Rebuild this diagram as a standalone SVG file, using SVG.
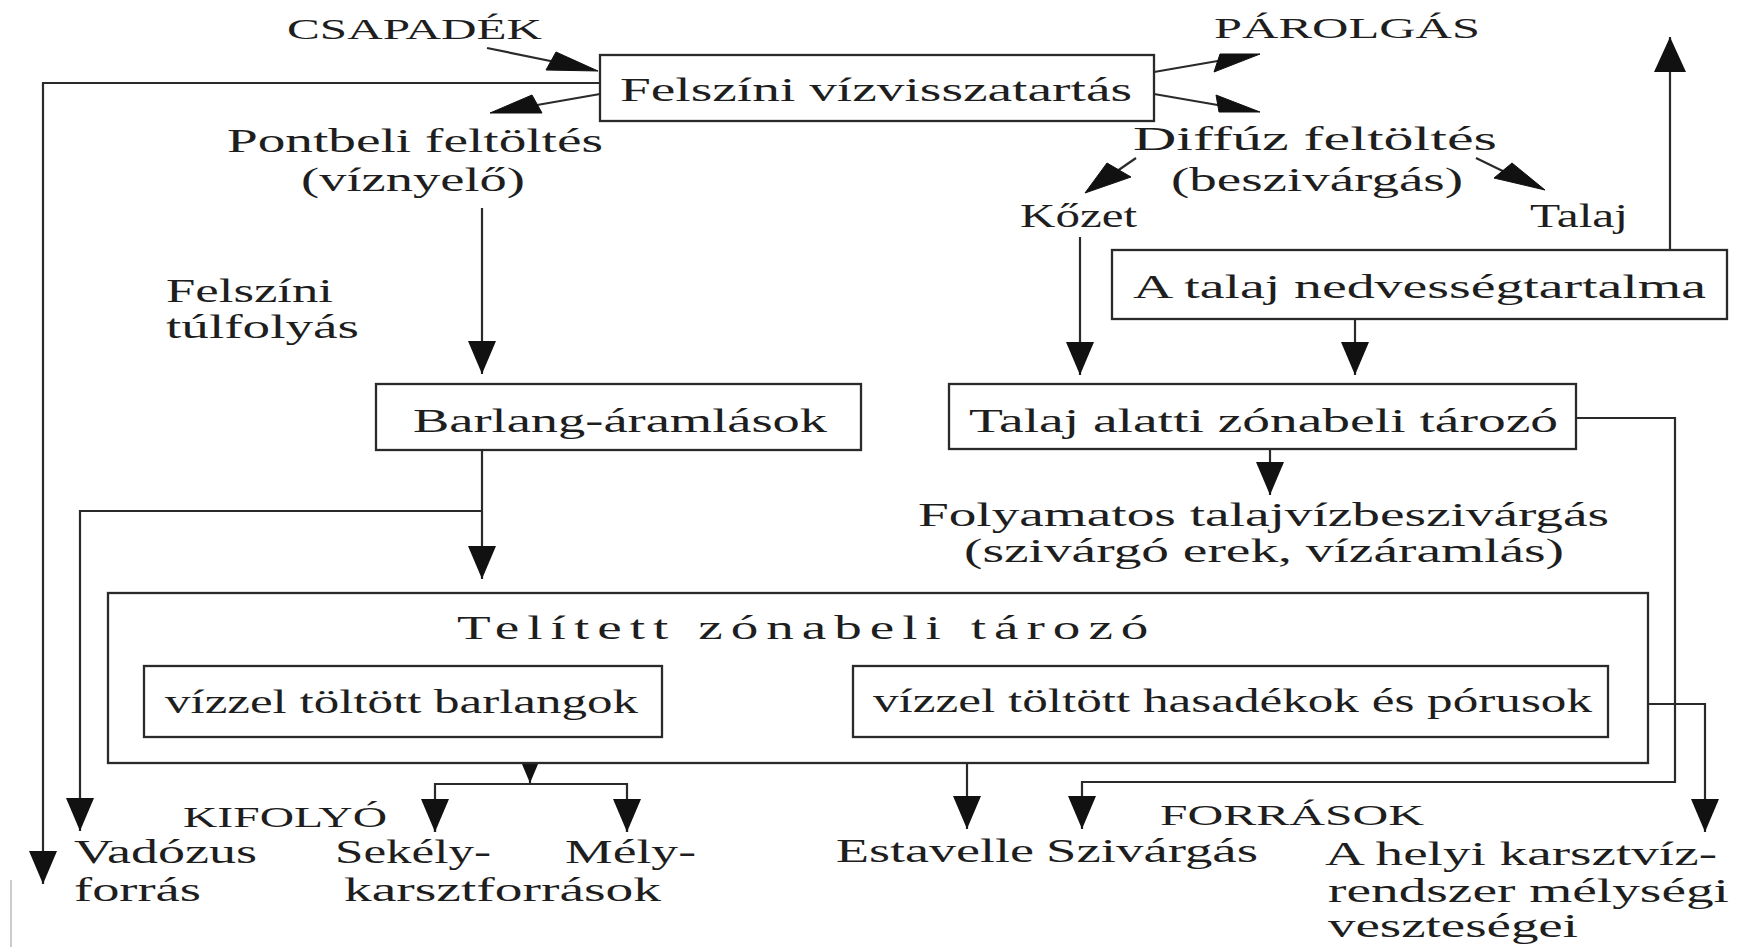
<svg xmlns="http://www.w3.org/2000/svg" width="1742" height="947" viewBox="0 0 1742 947">
<style>
.bx{fill:#fff;stroke:#2a2a2a;stroke-width:2.3}
.ln{fill:none;stroke:#2a2a2a;stroke-width:2.2}
.ah{fill:#111;stroke:#111;stroke-width:1;stroke-linejoin:round}
.t{font-family:"Liberation Serif","Times New Roman",serif;font-size:33px;fill:#1e1e1e}
.c{font-family:"Liberation Serif","Times New Roman",serif;font-size:30px;fill:#1e1e1e}
</style>
<defs>
<marker id="mv" markerUnits="userSpaceOnUse" viewBox="-40 -20 45 40" markerWidth="45" markerHeight="40" refX="0" refY="0" orient="auto"><path d="M0,0 L-33,-14 L-33,14 Z" fill="#111"/></marker>
<marker id="mu" markerUnits="userSpaceOnUse" viewBox="-40 -20 45 40" markerWidth="45" markerHeight="40" refX="0" refY="0" orient="auto"><path d="M0,0 L-35,-16 L-35,16 Z" fill="#111"/></marker>
<marker id="ms" markerUnits="userSpaceOnUse" viewBox="-45 -20 50 40" markerWidth="50" markerHeight="40" refX="0" refY="0" orient="auto-start-reverse"><path d="M0,0 L-38,-10 L-38,10 Z" fill="#111"/></marker>
</defs>
<rect width="1742" height="947" fill="#fff"/>

<g id="connectors">
<line class="ln" x1="487" y1="48" x2="570" y2="65"/>
<polygon class="ah" points="598,71 546,70 556,52"/>
<line class="ln" x1="600" y1="94" x2="520" y2="108"/>
<polygon class="ah" points="490,113 542,113 532,95"/>
<line class="ln" x1="1154" y1="72" x2="1235" y2="58"/>
<polygon class="ah" points="1260,54 1220,54 1214,72"/>
<line class="ln" x1="1154" y1="94" x2="1235" y2="108"/>
<polygon class="ah" points="1260,112 1219,112 1216,95"/>
<polyline class="ln" points="600,83 43,83 43,884" marker-end="url(#mv)"/>
<line class="ln" x1="482" y1="208" x2="482" y2="374" marker-end="url(#mv)"/>
<line class="ln" x1="482" y1="450" x2="482" y2="579" marker-end="url(#mv)"/>
<polyline class="ln" points="482,511 80,511 80,831" marker-end="url(#mv)"/>
<line class="ln" x1="1136" y1="158" x2="1110" y2="176"/>
<polygon class="ah" points="1085,193 1107,163 1131,177"/>
<line class="ln" x1="1476" y1="158" x2="1515" y2="177"/>
<polygon class="ah" points="1545,190 1494,178 1512,163"/>
<line class="ln" x1="1080" y1="237" x2="1080" y2="375" marker-end="url(#mv)"/>
<line class="ln" x1="1670" y1="250" x2="1670" y2="37" marker-end="url(#mu)"/>
<line class="ln" x1="1355" y1="319" x2="1355" y2="375" marker-end="url(#mv)"/>
<line class="ln" x1="1270" y1="449" x2="1270" y2="495" marker-end="url(#mv)"/>
<polyline class="ln" points="1576,418 1675,418 1675,782 1082,782 1082,829" marker-end="url(#mv)"/>
<line class="ln" x1="680" y1="703" x2="835" y2="703" marker-start="url(#ms)" marker-end="url(#ms)"/>
<line class="ln" x1="530" y1="737" x2="530" y2="783" marker-end="url(#mv)"/>
<polyline class="ln" points="435,832 435,784 627,784 627,832"/>
<line class="ln" x1="435" y1="800" x2="435" y2="832" marker-end="url(#mv)"/>
<line class="ln" x1="627" y1="800" x2="627" y2="832" marker-end="url(#mv)"/>
<line class="ln" x1="967" y1="737" x2="967" y2="829" marker-end="url(#mv)"/>
<polyline class="ln" points="1648,704 1705,704 1705,832" marker-end="url(#mv)"/>
<line x1="11" y1="880" x2="11" y2="947" stroke="#bbb" stroke-width="1.5"/>
</g>

<g id="n-felszini-viz"><rect class="bx" x="600" y="55" width="554" height="66"/><text class="t" x="620" y="101" textLength="512" lengthAdjust="spacingAndGlyphs">Felszíni vízvisszatartás</text></g>
<g id="n-barlang-aram"><rect class="bx" x="376" y="384" width="485" height="66"/><text class="t" x="413" y="432" textLength="414" lengthAdjust="spacingAndGlyphs">Barlang-áramlások</text></g>
<g id="n-nedvesseg"><rect class="bx" x="1112" y="250" width="615" height="69"/><text class="t" x="1133" y="298" textLength="573" lengthAdjust="spacingAndGlyphs">A talaj nedvességtartalma</text></g>
<g id="n-talaj-alatti"><rect class="bx" x="949" y="384" width="627" height="65"/><text class="t" x="969" y="432" textLength="589" lengthAdjust="spacingAndGlyphs">Talaj alatti zónabeli tározó</text></g>
<g id="n-telitett"><rect class="bx" x="108" y="593" width="1540" height="170"/><text class="t" transform="translate(457,639) scale(1.67,1)" letter-spacing="4.8">Telített zónabeli tározó</text></g>
<g id="n-barlangok"><rect class="bx" x="144" y="666" width="518" height="71"/><text class="t" x="165" y="713" textLength="473" lengthAdjust="spacingAndGlyphs">vízzel töltött barlangok</text></g>
<g id="n-hasadekok"><rect class="bx" x="853" y="666" width="755" height="71"/><text class="t" x="873" y="712" textLength="719" lengthAdjust="spacingAndGlyphs">vízzel töltött hasadékok és pórusok</text></g>

<g id="n-csapadek"><text class="c" x="287" y="39" textLength="255" lengthAdjust="spacingAndGlyphs">CSAPADÉK</text></g>
<g id="n-parolgas"><text class="c" x="1214" y="38" textLength="266" lengthAdjust="spacingAndGlyphs">PÁROLGÁS</text></g>
<g id="n-pontbeli"><text class="t" x="227" y="152" textLength="376" lengthAdjust="spacingAndGlyphs">Pontbeli feltöltés</text><text class="t" x="301" y="191" textLength="224" lengthAdjust="spacingAndGlyphs">(víznyelő)</text></g>
<g id="n-diffuz"><text class="t" x="1133" y="150" textLength="364" lengthAdjust="spacingAndGlyphs">Diffúz feltöltés</text><text class="t" x="1171" y="191" textLength="292" lengthAdjust="spacingAndGlyphs">(beszivárgás)</text></g>
<g id="n-kozet"><text class="t" x="1020" y="227" textLength="117" lengthAdjust="spacingAndGlyphs">Kőzet</text></g>
<g id="n-talaj"><text class="t" x="1530" y="227" textLength="98" lengthAdjust="spacingAndGlyphs">Talaj</text></g>
<g id="n-tulfolyas"><text class="t" x="166" y="302" textLength="167" lengthAdjust="spacingAndGlyphs">Felszíni</text><text class="t" x="166" y="338" textLength="193" lengthAdjust="spacingAndGlyphs">túlfolyás</text></g>
<g id="n-folyamatos"><text class="t" x="918" y="526" textLength="691" lengthAdjust="spacingAndGlyphs">Folyamatos talajvízbeszivárgás</text><text class="t" x="964" y="562" textLength="600" lengthAdjust="spacingAndGlyphs">(szivárgó erek, vízáramlás)</text></g>
<g id="n-kifolyo"><text class="c" x="183" y="827" textLength="204" lengthAdjust="spacingAndGlyphs">KIFOLYÓ</text></g>
<g id="n-forrasok"><text class="c" x="1160" y="825" textLength="264" lengthAdjust="spacingAndGlyphs">FORRÁSOK</text></g>
<g id="n-vadozus"><text class="t" x="74" y="863" textLength="183" lengthAdjust="spacingAndGlyphs">Vadózus</text><text class="t" x="74" y="901" textLength="127" lengthAdjust="spacingAndGlyphs">forrás</text></g>
<g id="n-karszt"><text class="t" x="335" y="863" textLength="156" lengthAdjust="spacingAndGlyphs">Sekély-</text><text class="t" x="565" y="863" textLength="131" lengthAdjust="spacingAndGlyphs">Mély-</text><text class="t" x="344" y="901" textLength="317" lengthAdjust="spacingAndGlyphs">karsztforrások</text></g>
<g id="n-estavelle"><text class="t" x="836" y="862" textLength="198" lengthAdjust="spacingAndGlyphs">Estavelle</text></g>
<g id="n-szivargas"><text class="t" x="1046" y="862" textLength="212" lengthAdjust="spacingAndGlyphs">Szivárgás</text></g>
<g id="n-helyi"><text class="t" x="1325" y="865" textLength="392" lengthAdjust="spacingAndGlyphs">A helyi karsztvíz-</text><text class="t" x="1328" y="902" textLength="401" lengthAdjust="spacingAndGlyphs">rendszer mélységi</text><text class="t" x="1328" y="937" textLength="250" lengthAdjust="spacingAndGlyphs">veszteségei</text></g>
</svg>
